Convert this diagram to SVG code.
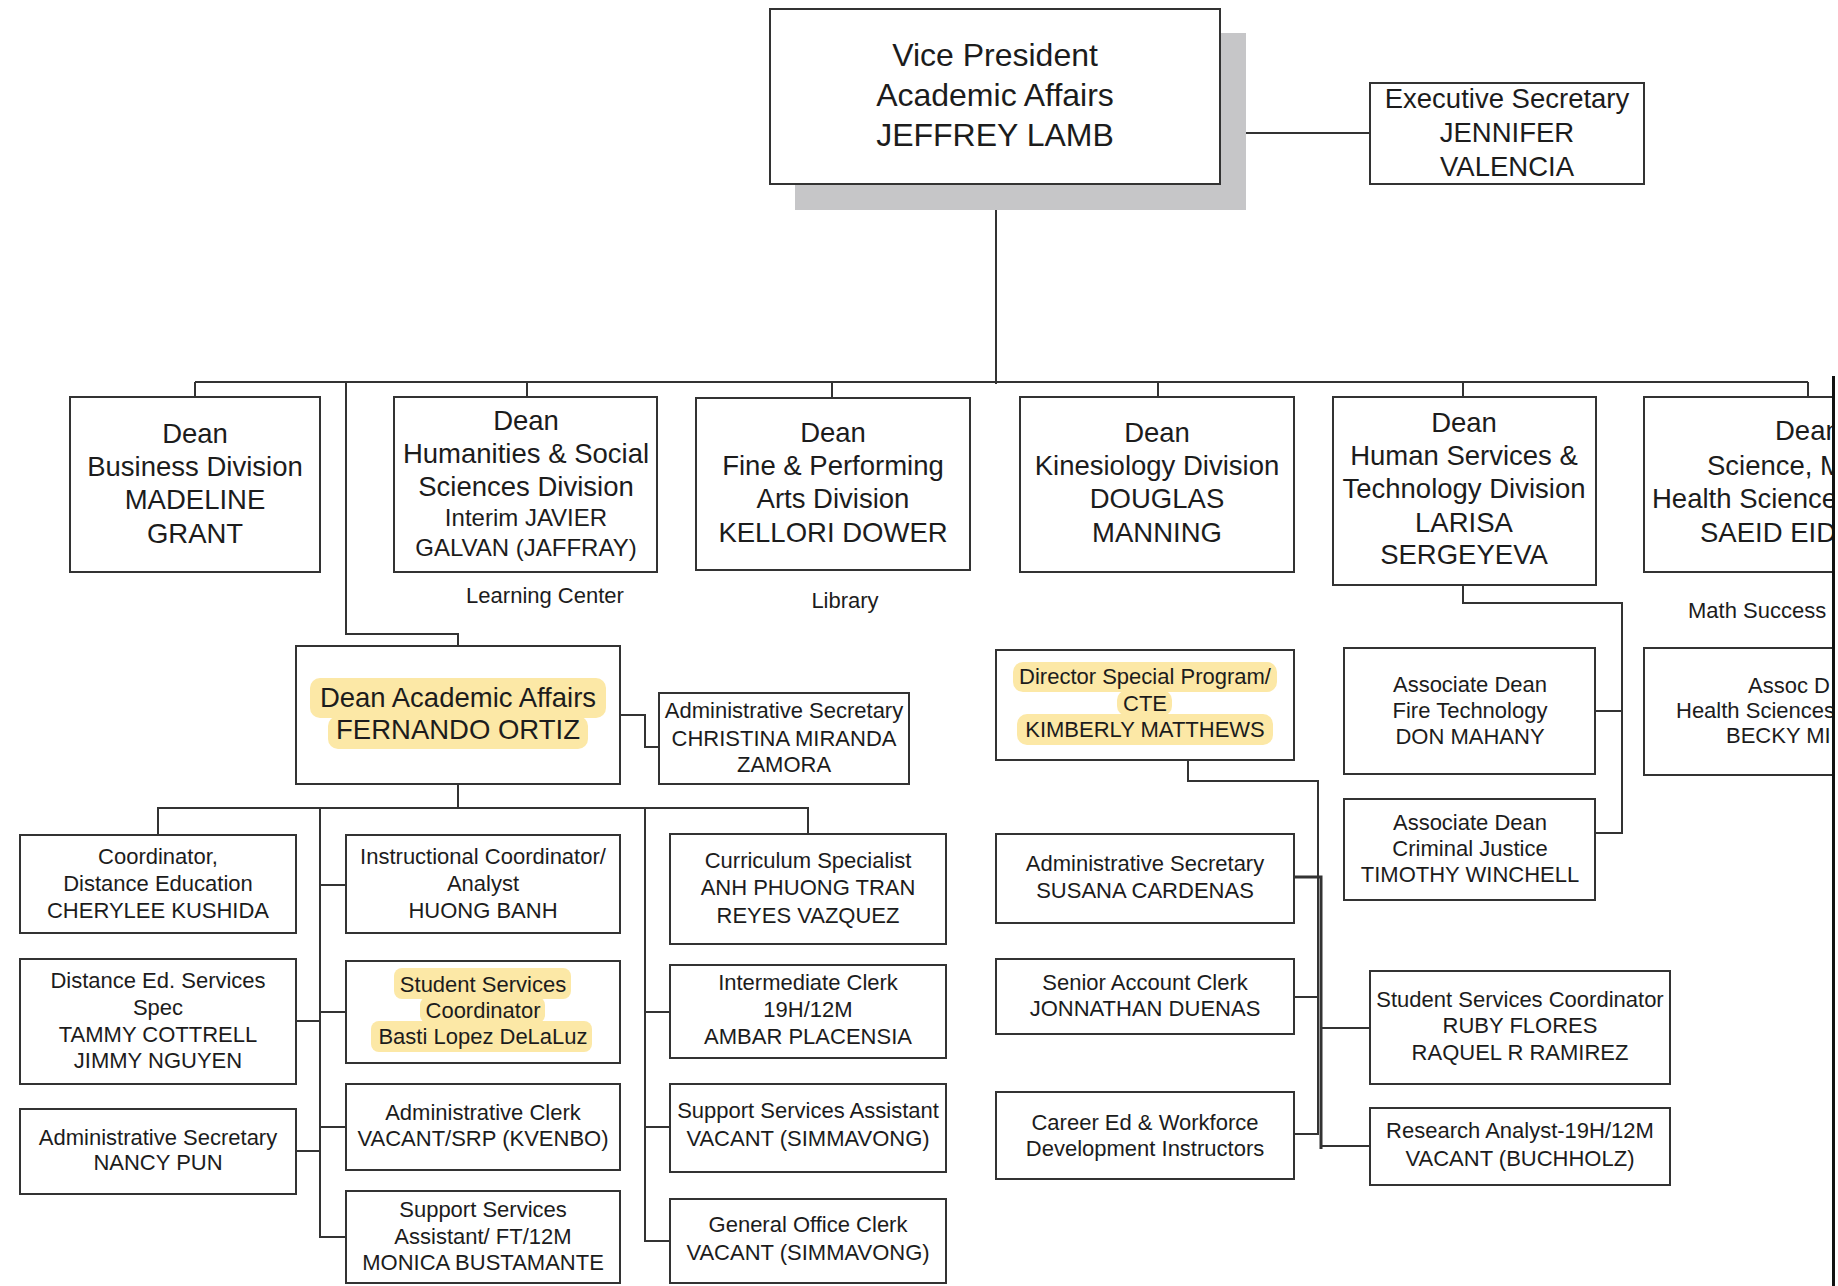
<svg xmlns="http://www.w3.org/2000/svg" width="1838" height="1286" viewBox="0 0 1838 1286">
<style>
.box{fill:#fff;stroke:#333;stroke-width:2}
.t{font-family:"Liberation Sans",Arial,sans-serif;fill:#1c1c1c;text-anchor:middle}
.s{text-anchor:start}
.xl{font-size:32px}
.lg{font-size:27.5px}
.md{font-size:24px}
.sm{font-size:22px}
.lb{font-size:22px}
.hl{fill:#fce8a6}
.c{fill:none;stroke:#333;stroke-width:2}
</style>
<defs>
<clipPath id="page"><rect x="0" y="0" width="1832" height="1286"/></clipPath>
</defs>
<rect x="0" y="0" width="1838" height="1286" fill="#fff"/>
<g clip-path="url(#page)">
<g id="connectors">
<path class="c" d="M1220 133H1370"/>
<path class="c" d="M996 184V384"/>
<path class="c" d="M195 382H1808"/>
<path class="c" d="M195 382V397M527 382V397M832 382V398M1158 382V397M1463 382V397M1808 382V397"/>
<path class="c" d="M346 382V634H458V646"/>
<path class="c" d="M1463 585V603H1622V833H1595M1595 711H1622"/>
<path class="c" d="M620 715H645V747H659"/>
<path class="c" d="M458 784V808M158 835V808H808V834"/>
<path class="c" d="M320 808V1237H346M320 885H346M320 1012H346M320 1127H346M296 1021H320M296 1151H320"/>
<path class="c" d="M645 808V1241H670M645 1012H670M645 1127H670"/>
<path class="c" d="M1188 760V781H1318V1134H1294M1294 997H1318"/>
<path class="c" d="M1294 877H1321V1149" style="stroke-width:3"/>
<path class="c" d="M1321 1028H1370M1321 1146H1370"/>
</g>
<g id="vp">
<rect x="795" y="33" width="451" height="177" fill="#c6c6c8"/>
<rect class="box" x="770" y="9" width="450" height="175"/>
<text class="t xl" x="995" y="66">Vice President</text>
<text class="t xl" x="995" y="106">Academic Affairs</text>
<text class="t xl" x="995" y="146">JEFFREY LAMB</text>
</g>
<g id="exec-sec">
<rect class="box" x="1370" y="83" width="274" height="101"/>
<text class="t lg" x="1507" y="108">Executive Secretary</text>
<text class="t lg" x="1507" y="142">JENNIFER</text>
<text class="t lg" x="1507" y="176">VALENCIA</text>
</g>
<g id="dean-business">
<rect class="box" x="70" y="397" width="250" height="175"/>
<text class="t lg" x="195" y="443">Dean</text>
<text class="t lg" x="195" y="476">Business Division</text>
<text class="t lg" x="195" y="509">MADELINE</text>
<text class="t lg" x="195" y="543">GRANT</text>
</g>
<g id="dean-humanities">
<rect class="box" x="394" y="397" width="263" height="175"/>
<text class="t lg" x="526" y="430">Dean</text>
<text class="t lg" x="526" y="463">Humanities &amp; Social</text>
<text class="t lg" x="526" y="496">Sciences Division</text>
<text class="t md" x="526" y="526">Interim JAVIER</text>
<text class="t md" x="526" y="556">GALVAN (JAFFRAY)</text>
</g>
<text id="learning-center" class="t lb" x="545" y="603">Learning Center</text>
<g id="dean-fine-arts">
<rect class="box" x="696" y="398" width="274" height="172"/>
<text class="t lg" x="833" y="442">Dean</text>
<text class="t lg" x="833" y="475">Fine &amp; Performing</text>
<text class="t lg" x="833" y="508">Arts Division</text>
<text class="t lg" x="833" y="542">KELLORI DOWER</text>
</g>
<text id="library" class="t lb" x="845" y="608">Library</text>
<g id="dean-kinesiology">
<rect class="box" x="1020" y="397" width="274" height="175"/>
<text class="t lg" x="1157" y="442">Dean</text>
<text class="t lg" x="1157" y="475">Kinesiology Division</text>
<text class="t lg" x="1157" y="508">DOUGLAS</text>
<text class="t lg" x="1157" y="542">MANNING</text>
</g>
<g id="dean-human-services">
<rect class="box" x="1333" y="397" width="263" height="188"/>
<text class="t lg" x="1464" y="432">Dean</text>
<text class="t lg" x="1464" y="465">Human Services &amp;</text>
<text class="t lg" x="1464" y="498">Technology Division</text>
<text class="t lg" x="1464" y="532">LARISA</text>
<text class="t lg" x="1464" y="564">SERGEYEVA</text>
</g>
<g id="dean-science">
<rect class="box" x="1644" y="397" width="330" height="175"/>
<text class="t lg s" x="1775" y="440">Dean</text>
<text class="t lg s" x="1707" y="475">Science, M</text>
<text class="t lg s" x="1652" y="508">Health Science</text>
<text class="t lg s" x="1700" y="542">SAEID EID</text>
</g>
<text id="math-success" class="t lb s" x="1688" y="618">Math Success</text>
<g id="assoc-dean-fire">
<rect class="box" x="1344" y="648" width="251" height="126"/>
<text class="t sm" x="1470" y="692">Associate Dean</text>
<text class="t sm" x="1470" y="718">Fire Technology</text>
<text class="t sm" x="1470" y="744">DON MAHANY</text>
</g>
<g id="assoc-dean-health">
<rect class="box" x="1644" y="648" width="330" height="127"/>
<text class="t sm s" x="1748" y="693">Assoc D</text>
<text class="t sm s" x="1676" y="718">Health Sciences</text>
<text class="t sm s" x="1726" y="743">BECKY MI</text>
</g>
<g id="assoc-dean-criminal">
<rect class="box" x="1344" y="799" width="251" height="101"/>
<text class="t sm" x="1470" y="830">Associate Dean</text>
<text class="t sm" x="1470" y="856">Criminal Justice</text>
<text class="t sm" x="1470" y="882">TIMOTHY WINCHELL</text>
</g>
<g id="dean-academic-affairs">
<rect class="box" x="296" y="646" width="324" height="138"/>
<rect class="hl" x="310" y="678" width="296" height="40" rx="10"/>
<rect class="hl" x="328" y="716" width="260" height="33" rx="10"/>
<text class="t lg" x="458" y="707">Dean Academic Affairs</text>
<text class="t lg" x="458" y="739">FERNANDO ORTIZ</text>
</g>
<g id="admin-sec-zamora">
<rect class="box" x="659" y="693" width="250" height="91"/>
<text class="t sm" x="784" y="718">Administrative Secretary</text>
<text class="t sm" x="784" y="746">CHRISTINA MIRANDA</text>
<text class="t sm" x="784" y="772">ZAMORA</text>
</g>
<g id="coord-distance-ed">
<rect class="box" x="20" y="835" width="276" height="98"/>
<text class="t sm" x="158" y="864">Coordinator,</text>
<text class="t sm" x="158" y="891">Distance Education</text>
<text class="t sm" x="158" y="918">CHERYLEE KUSHIDA</text>
</g>
<g id="distance-ed-spec">
<rect class="box" x="20" y="959" width="276" height="125"/>
<text class="t sm" x="158" y="988">Distance Ed. Services</text>
<text class="t sm" x="158" y="1015">Spec</text>
<text class="t sm" x="158" y="1042">TAMMY COTTRELL</text>
<text class="t sm" x="158" y="1068">JIMMY NGUYEN</text>
</g>
<g id="admin-sec-pun">
<rect class="box" x="20" y="1109" width="276" height="85"/>
<text class="t sm" x="158" y="1145">Administrative Secretary</text>
<text class="t sm" x="158" y="1170">NANCY PUN</text>
</g>
<g id="instructional-coord">
<rect class="box" x="346" y="835" width="274" height="98"/>
<text class="t sm" x="483" y="864">Instructional Coordinator/</text>
<text class="t sm" x="483" y="891">Analyst</text>
<text class="t sm" x="483" y="918">HUONG BANH</text>
</g>
<g id="student-services-basti">
<rect class="box" x="346" y="961" width="274" height="102"/>
<rect class="hl" x="394" y="968" width="177" height="31" rx="8"/>
<rect class="hl" x="420" y="997" width="125" height="26" rx="8"/>
<rect class="hl" x="371" y="1021" width="221" height="31" rx="8"/>
<text class="t sm" x="483" y="992">Student Services</text>
<text class="t sm" x="483" y="1018">Coordinator</text>
<text class="t sm" x="483" y="1044">Basti Lopez DeLaLuz</text>
</g>
<g id="admin-clerk">
<rect class="box" x="346" y="1084" width="274" height="86"/>
<text class="t sm" x="483" y="1120">Administrative Clerk</text>
<text class="t sm" x="483" y="1146">VACANT/SRP (KVENBO)</text>
</g>
<g id="support-asst-ft">
<rect class="box" x="346" y="1191" width="274" height="92"/>
<text class="t sm" x="483" y="1217">Support Services</text>
<text class="t sm" x="483" y="1244">Assistant/ FT/12M</text>
<text class="t sm" x="483" y="1270">MONICA BUSTAMANTE</text>
</g>
<g id="curriculum-specialist">
<rect class="box" x="670" y="834" width="276" height="110"/>
<text class="t sm" x="808" y="868">Curriculum Specialist</text>
<text class="t sm" x="808" y="895">ANH PHUONG TRAN</text>
<text class="t sm" x="808" y="923">REYES VAZQUEZ</text>
</g>
<g id="intermediate-clerk">
<rect class="box" x="670" y="965" width="276" height="93"/>
<text class="t sm" x="808" y="990">Intermediate Clerk</text>
<text class="t sm" x="808" y="1017">19H/12M</text>
<text class="t sm" x="808" y="1044">AMBAR PLACENSIA</text>
</g>
<g id="support-asst-vacant">
<rect class="box" x="670" y="1084" width="276" height="88"/>
<text class="t sm" x="808" y="1118">Support Services Assistant</text>
<text class="t sm" x="808" y="1146">VACANT (SIMMAVONG)</text>
</g>
<g id="general-office-clerk">
<rect class="box" x="670" y="1199" width="276" height="84"/>
<text class="t sm" x="808" y="1232">General Office Clerk</text>
<text class="t sm" x="808" y="1260">VACANT (SIMMAVONG)</text>
</g>
<g id="director-special">
<rect class="box" x="996" y="650" width="298" height="110"/>
<rect class="hl" x="1013" y="662" width="264" height="30" rx="10"/>
<rect class="hl" x="1117" y="690" width="55" height="26" rx="10"/>
<rect class="hl" x="1017" y="714" width="256" height="31" rx="10"/>
<text class="t sm" x="1145" y="684">Director Special Program/</text>
<text class="t sm" x="1145" y="711">CTE</text>
<text class="t sm" x="1145" y="737">KIMBERLY MATTHEWS</text>
</g>
<g id="admin-sec-cardenas">
<rect class="box" x="996" y="834" width="298" height="89"/>
<text class="t sm" x="1145" y="871">Administrative Secretary</text>
<text class="t sm" x="1145" y="898">SUSANA CARDENAS</text>
</g>
<g id="senior-account-clerk">
<rect class="box" x="996" y="959" width="298" height="75"/>
<text class="t sm" x="1145" y="990">Senior Account Clerk</text>
<text class="t sm" x="1145" y="1016">JONNATHAN DUENAS</text>
</g>
<g id="career-ed">
<rect class="box" x="996" y="1092" width="298" height="87"/>
<text class="t sm" x="1145" y="1130">Career Ed &amp; Workforce</text>
<text class="t sm" x="1145" y="1156">Development Instructors</text>
</g>
<g id="student-services-ruby">
<rect class="box" x="1370" y="971" width="300" height="113"/>
<text class="t sm" x="1520" y="1007">Student Services Coordinator</text>
<text class="t sm" x="1520" y="1033">RUBY FLORES</text>
<text class="t sm" x="1520" y="1060">RAQUEL R RAMIREZ</text>
</g>
<g id="research-analyst">
<rect class="box" x="1370" y="1108" width="300" height="77"/>
<text class="t sm" x="1520" y="1138">Research Analyst-19H/12M</text>
<text class="t sm" x="1520" y="1166">VACANT (BUCHHOLZ)</text>
</g>
</g>
<line x1="1833.5" y1="376" x2="1833.5" y2="1286" stroke="#111" stroke-width="3"/>
</svg>
